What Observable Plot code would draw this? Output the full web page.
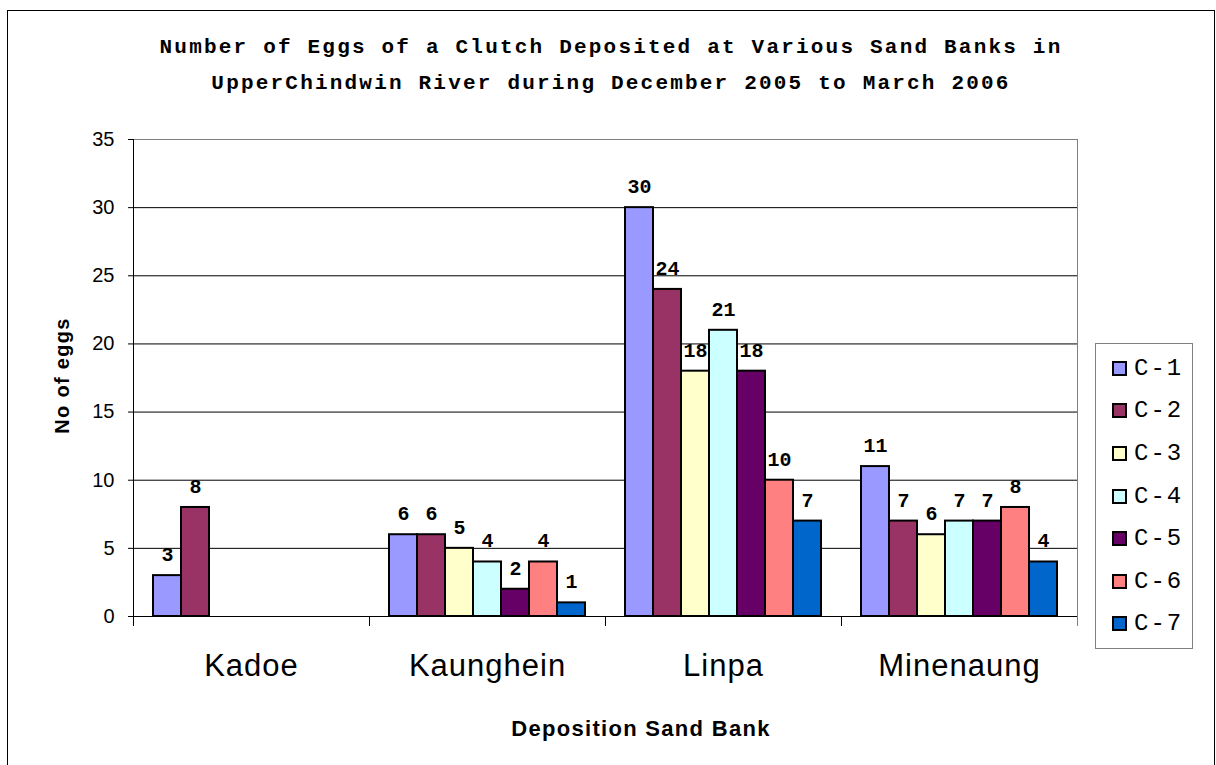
<!DOCTYPE html>
<html><head><meta charset="utf-8">
<script src="https://cdn.jsdelivr.net/npm/d3@7"></script>
<script src="https://cdn.jsdelivr.net/npm/@observablehq/plot@0.6"></script>
<style>
html,body{margin:0;padding:0;background:#fff;overflow:hidden}
#wrap{position:relative;width:1216px;height:765px}
#border{position:absolute;left:7px;top:10px;width:1208px;height:800px;border:1px solid #000;box-sizing:border-box;pointer-events:none}
#title{position:absolute;left:7px;width:1208px;top:30px;text-align:center;font:bold 21px "Liberation Mono","Courier New",monospace;letter-spacing:2.2px;line-height:36px;color:#000}
#legend{position:absolute;left:1095px;top:343px;width:98px;height:306px;border:1px solid #808080;box-sizing:border-box;padding:3px 0;display:flex;flex-direction:column;background:#fff}
.item{flex:1;display:flex;align-items:center;padding-left:16px}
.sw{width:11px;height:11px;border:2px solid #000;margin-right:7px}
.lab{font:24px "Liberation Mono","Courier New",monospace;letter-spacing:2px;color:#000}
#chart{position:absolute;left:0;top:0}
</style>
</head><body>
<div id="wrap">
  <div id="chart"></div>
  <div id="title">Number of Eggs of a Clutch Deposited at Various Sand Banks in<br>UpperChindwin River during December 2005 to March 2006</div>
  <div id="legend"></div>
  <div id="border"></div>
</div>
<script>
const sandBanks = ["Kadoe", "Kaunghein", "Linpa", "Minenaung"];
const clutches = ["C-1", "C-2", "C-3", "C-4", "C-5", "C-6", "C-7"];
const kadoe = [3, 8];
const kaunghein = [6, 6, 5, 4, 2, 4, 1];
const linpa = [30, 24, 18, 21, 18, 10, 7];
const minenaung = [11, 7, 6, 7, 7, 8, 4];
const colors = ["#9999FF", "#993366", "#FFFFCC", "#CCFFFF", "#660066", "#FF8080", "#0066CC"];
const yTicks = [0, 5, 10, 15, 20, 25, 30, 35];
const gridValues = [5, 10, 15, 20, 25, 30];
const xTitle = "Deposition Sand Bank";
const yTitle = "No of eggs";

const seriesByBank = [kadoe, kaunghein, linpa, minenaung];
const rows = [];
sandBanks.forEach((bank, bi) => {
  seriesByBank[bi].forEach((v, i) => rows.push({bank, clutch: clutches[i], eggs: v}));
});

const plot = Plot.plot({
  width: 1216,
  height: 765,
  marginLeft: 133,
  marginRight: 139,
  marginTop: 139,
  marginBottom: 149,
  style: {fontFamily: "'Liberation Sans', Arial, sans-serif", fontSize: "20px", background: "transparent", color: "#000"},
  facet: {data: rows, x: "bank"},
  fx: {domain: sandBanks, padding: 0, axis: null, label: null},
  x: {domain: clutches, paddingInner: 0, paddingOuter: 0.714, axis: null},
  y: {domain: [0, 35], ticks: yTicks, tickSize: 5, tickPadding: 14, label: null},
  color: {domain: clutches, range: colors},
  marks: [
    Plot.ruleY(gridValues, {stroke: "#000", strokeWidth: 1}),
    Plot.barY(rows, {x: "clutch", y: "eggs", fill: "clutch", stroke: "#000", strokeWidth: 2}),
    Plot.text(rows, {x: "clutch", y: "eggs", text: d => String(d.eggs), dy: -21,
      fontFamily: "'Liberation Mono', 'Courier New', monospace", fontWeight: "bold", fontSize: 20}),
    Plot.text(rows, Plot.selectFirst({text: "bank", frameAnchor: "bottom", dy: 59, fontSize: 31,
      fontFamily: "'Liberation Sans', Arial, sans-serif"}))
  ]
});
document.getElementById("chart").appendChild(plot);

// Post-process: frame, axis lines, category boundary ticks, axis titles
const svg = d3.select(plot);
const fxs = plot.scale("fx");
const ys = plot.scale("y");
const fxRange = fxs && fxs.range ? fxs.range : [133, 1077];
const band = d3.scaleBand().domain(sandBanks).range(fxRange).padding(0);
const yLin = d3.scaleLinear().domain(ys.domain).range(ys.range);
const X0 = fxRange[0], X1 = fxRange[1];
const yb = yLin(0), yt = yLin(35);

// y tick labels size
svg.selectAll("text").filter(function() {
  return yTicks.map(String).includes(this.textContent) && !this.closest("[aria-label='text']");
}).attr("font-size", 20);

const g = svg.append("g");
g.append("line").attr("x1", X0).attr("x2", X1).attr("y1", yt + 0.5).attr("y2", yt + 0.5).attr("stroke", "#808080");
g.append("line").attr("x1", X1 + 0.5).attr("x2", X1 + 0.5).attr("y1", yt).attr("y2", yb).attr("stroke", "#808080");
g.append("line").attr("x1", X0 + 0.5).attr("x2", X0 + 0.5).attr("y1", yt).attr("y2", yb).attr("stroke", "#000");
g.append("line").attr("x1", X0).attr("x2", X1).attr("y1", yb + 0.5).attr("y2", yb + 0.5).attr("stroke", "#000");
const bounds = sandBanks.map(b => band(b)).concat([X1]);
bounds.forEach((bx, i) => {
  g.append("line").attr("x1", bx + 0.5).attr("x2", bx + 0.5).attr("y1", yb).attr("y2", yb + 10)
    .attr("stroke", i === bounds.length - 1 ? "#808080" : "#000");
});
g.append("text").text(xTitle).attr("x", 641).attr("y", 728).attr("text-anchor", "middle").attr("dominant-baseline", "central")
  .attr("font-family", "'Liberation Sans', Arial, sans-serif").attr("font-weight", "bold").attr("font-size", 22).attr("letter-spacing", "1.3px");
g.append("text").text(yTitle).attr("transform", `translate(62,${(yt + yb) / 2 - 2}) rotate(-90)`).attr("text-anchor", "middle").attr("dominant-baseline", "central")
  .attr("font-family", "'Liberation Sans', Arial, sans-serif").attr("font-weight", "bold").attr("font-size", 20).attr("letter-spacing", "1.3px");
svg.selectAll("text").filter(function() { return sandBanks.includes(this.textContent); }).attr("letter-spacing", "1px");

// Legend
const legend = d3.select("#legend");
clutches.forEach((c, i) => {
  const it = legend.append("div").attr("class", "item");
  it.append("div").attr("class", "sw").style("background", colors[i]);
  it.append("span").attr("class", "lab").text(c);
});
</script>
</body></html>
